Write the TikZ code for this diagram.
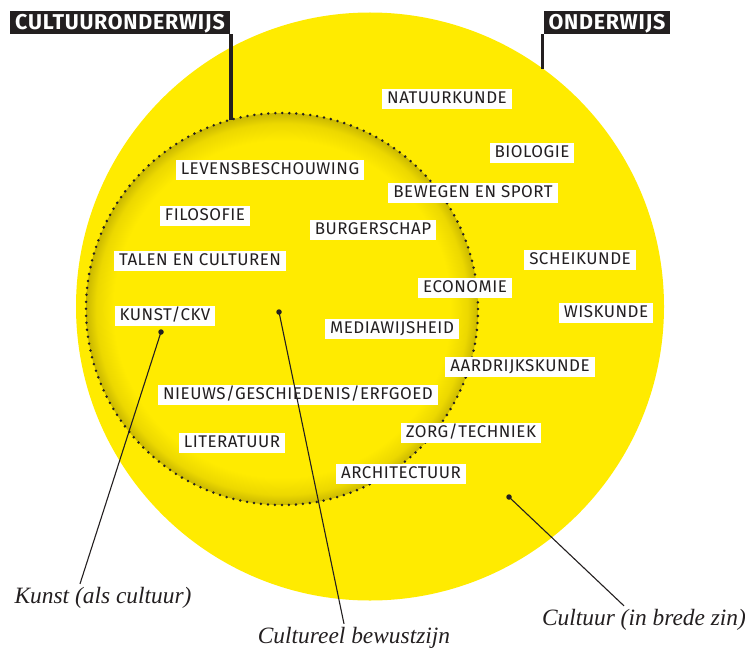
\documentclass[tikz,border=0pt]{standalone}
\usepackage{fontspec}
\setmainfont{Liberation Serif}
\newfontfamily\vakfont[LetterSpace=3]{Fira Sans}
\newfontfamily\kopfont[LetterSpace=3.5]{Fira Sans}
\usetikzlibrary{positioning}

\definecolor{geel}{RGB}{255,235,0}
\definecolor{geelhalf}{RGB}{236,216,0}
\definecolor{geeldonker}{RGB}{202,184,0}
\definecolor{inkt}{RGB}{35,31,32}
\pgfdeclareradialshading{binnenrand}{\pgfpoint{0bp}{0bp}}{color(0bp)=(geel); color(21.5bp)=(geel); color(23.7bp)=(geelhalf); color(25bp)=(geeldonker); color(50bp)=(geeldonker)}

\begin{document}
\begin{tikzpicture}[
  x=1bp, y=-1bp,
  vak/.style={fill=white, text=inkt, inner xsep=5bp, inner ysep=2.6bp,
    text height=12bp, text depth=2.4bp, font=\vakfont\fontsize{17}{17}\selectfont},
  kop/.style={fill=inkt, text=white, inner xsep=5bp, inner ysep=4.3bp,
    text height=14.5bp, text depth=0bp, font=\kopfont\bfseries\fontsize{21.5}{21.5}\selectfont},
  uitleg/.style={text=inkt, font=\itshape\fontsize{23.5}{23.5}\selectfont},
  punt/.style={circle, fill=inkt, inner sep=0pt, minimum size=5.5bp},
  wijzer/.style={draw=inkt, line width=1.1bp}
]
\useasboundingbox (0,0) rectangle (745,653);

% cirkels
\fill[geel] (370,306.5) circle (294);
\shade[shading=binnenrand] (282,309) circle (196);
\draw[inkt, line width=2.8bp, dash pattern=on 0bp off 7bp, line cap=round] (282,309) circle (196);

% koppen
\node[kop] (cultuuronderwijs) at (120,22.5) {CULTUURONDERWIJS};
\node[kop] (onderwijs) at (607,22.5) {ONDERWIJS};
\coordinate (binnentop) at (231,120);
\coordinate (buitentop) at (542.5,69);
\draw[inkt, line width=4bp] (binnentop |- cultuuronderwijs.south) -- (binnentop);
\draw[inkt, line width=2.4bp] (buitentop |- onderwijs.south) -- (buitentop);

% vakken
\node[vak] (natuurkunde) at (447,99) {NATUURKUNDE};
\node[vak] (biologie) at (532,153) {BIOLOGIE};
\node[vak] (levens) at (270,170) {LEVENSBESCHOUWING};
\node[vak] (bewegen) at (473,193) {BEWEGEN EN SPORT};
\node[vak] (filosofie) at (205,216) {FILOSOFIE};
\node[vak] (burgerschap) at (373,230) {BURGERSCHAP};
\node[vak] (talen) at (200,261) {TALEN EN CULTUREN};
\node[vak] (scheikunde) at (580,260) {SCHEIKUNDE};
\node[vak] (economie) at (465,288) {ECONOMIE};
\node[vak] (wiskunde) at (606,313) {WISKUNDE};
\node[vak] (kunstckv) at (165,316) {KUNST/CKV};
\node[vak] (media) at (392,329) {MEDIAWIJSHEID};
\node[vak] (aardrijkskunde) at (520,367) {AARDRIJKSKUNDE};
\node[vak] (nieuws) at (298,395) {NIEUWS/GESCHIEDENIS/ERFGOED};
\node[vak] (zorg) at (471,433) {ZORG/TECHNIEK};
\node[vak] (literatuur) at (232,443) {LITERATUUR};
\node[vak] (architectuur) at (401,474) {ARCHITECTUUR};

% uitleg
\node[uitleg] (kunst) at (103,598) {Kunst (als cultuur)};
\node[uitleg] (bewust) at (354,638) {Cultureel bewustzijn};
\node[uitleg] (breed) at (644,620) {Cultuur (in brede zin)};
\node[punt] (pkunst) at (161,332) {};
\node[punt] (pbewust) at (279,312) {};
\node[punt] (pbreed) at (509,497) {};
\draw[wijzer] (pkunst.center) -- (kunst.north -| 80,0);
\draw[wijzer] (pbewust.center) -- (bewust.north -| 344,0);
\draw[wijzer] (pbreed.center) -- (breed.north -| 624,0);
\end{tikzpicture}
\end{document}
